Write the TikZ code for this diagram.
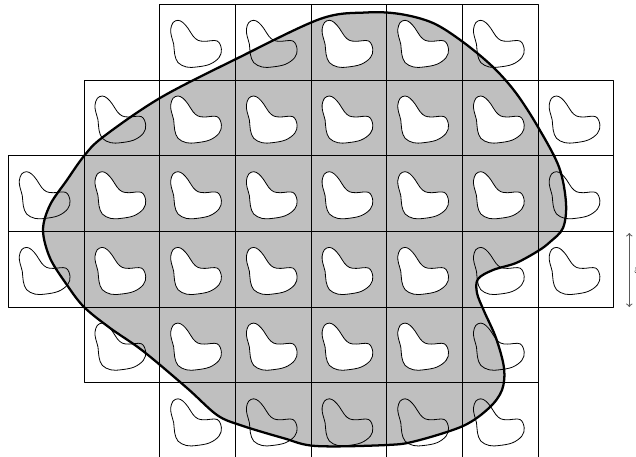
\documentclass[tikz,border=0pt]{standalone}
\begin{document}
\begin{tikzpicture}[x=0.75pt,y=-0.75pt,>=to, line join=round, line cap=round]
	\def\cell{75.7} \def\xo{8.3} \def\yo{4.3}
	\tikzset{gridline/.style={line width=0.7pt},
		blobline/.style={line width=0.6pt},
		region/.style={line width=1.7pt}}
	\useasboundingbox (0,0) rectangle (636,457);
	% the region
	\fill[black!25] plot[smooth cycle,tension=0.55] coordinates {(43,230) (50,205) (67,180) (84,156) (103,137) (160,98) (236,59) (320,19) (366,12.5) (400,14) (433,23) (463,42) (493,67) (516,93) (538,127) (559,167) (566,203) (563,228) (550,242) (538,251) (516,263) (493,270) (478,279) (477,293) (484,311) (496,338) (504,368) (502,390) (489,408) (463,426) (416,441) (387,445) (316,446) (283,438) (240,425) (217,415) (187,388) (143,351) (110,328) (84,307) (67,285) (50,258)};
	% white blobs in the cells lying inside
	\foreach \r/\cmin/\cmax in {0/4/5,1/2/6,2/1/6,3/1/5,4/2/5}
	\foreach \c in {\cmin,...,\cmax}
	\fill[white,shift={({\xo+\cell*\c},{\yo+\cell*\r})}] plot[smooth cycle,tension=0.6] coordinates {(18.3,16) (23.3,18.3) (28.3,24) (33.3,31.7) (38.3,36) (45,37) (57.5,36.7) (61.7,45) (59.3,53.3) (50,60) (36.7,62.7) (26.7,62.7) (18.3,58.3) (15,50) (14,40) (11.7,31.7) (11,25) (13.3,18.3)};
	% blob outlines and cells
	\foreach \r/\cmin/\cmax in {0/2/6,1/1/7,2/0/7,3/0/7,4/1/6,5/2/6}
	\foreach \c in {\cmin,...,\cmax}{
		\draw[blobline,shift={({\xo+\cell*\c},{\yo+\cell*\r})}] plot[smooth cycle,tension=0.6] coordinates {(18.3,16) (23.3,18.3) (28.3,24) (33.3,31.7) (38.3,36) (45,37) (57.5,36.7) (61.7,45) (59.3,53.3) (50,60) (36.7,62.7) (26.7,62.7) (18.3,58.3) (15,50) (14,40) (11.7,31.7) (11,25) (13.3,18.3)};
		\draw[gridline] ({\xo+\cell*\c},{\yo+\cell*\r}) rectangle ++(\cell,\cell);
	}
	\draw[region] plot[smooth cycle,tension=0.55] coordinates {(43,230) (50,205) (67,180) (84,156) (103,137) (160,98) (236,59) (320,19) (366,12.5) (400,14) (433,23) (463,42) (493,67) (516,93) (538,127) (559,167) (566,203) (563,228) (550,242) (538,251) (516,263) (493,270) (478,279) (477,293) (484,311) (496,338) (504,368) (502,390) (489,408) (463,426) (416,441) (387,445) (316,446) (283,438) (240,425) (217,415) (187,388) (143,351) (110,328) (84,307) (67,285) (50,258)};
	% cell size
	\coordinate (epstop) at (629.3,233);
	\coordinate (epsbot) at (629.3,307);
	\draw[<->,black!65,line width=0.8pt] (epstop) -- (epsbot);
	\node[anchor=west,inner sep=0pt,font=\large] (eps) at (634,270) {$\varepsilon$};
\end{tikzpicture}
\end{document}
